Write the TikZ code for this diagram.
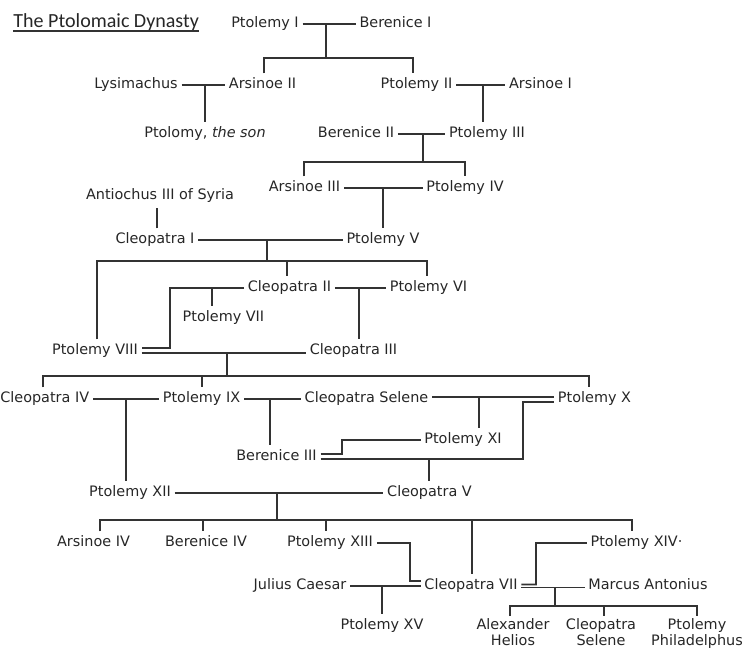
\documentclass[tikz,border=0pt]{standalone}
\usepackage{fontspec}
\setmainfont{DejaVu Sans}
\newfontfamily\titlefont{Carlito}
\usetikzlibrary{calc}

\begin{document}
\begin{tikzpicture}[
  x=0.02cm, y=-0.02cm,
  ln/.style  = {line width=0.9pt, black!80},
  pn/.style  = {font=\fontsize{8.2}{9.6}\selectfont, text=black!85,
                inner xsep=2pt, inner ysep=2.5pt, text height=6pt, text depth=1.8pt},
  kid/.style = {font=\fontsize{8.2}{9.1}\selectfont, text=black!85, align=center,
                anchor=north, inner xsep=0pt, inner ysep=1pt},
  ttl/.style = {font=\titlefont\fontsize{11.4}{13}\selectfont, text=black!85,
                inner sep=0pt, anchor=base west},
]
\useasboundingbox (0,0) rectangle (749,649);

%% title
\node[ttl] (ttl) at (13,28) {The Ptolomaic Dynasty};
\draw[line width=0.7pt, black!80] ($(ttl.base west)+(0,3)$) -- ($(ttl.base east)+(0,3)$);

%% people
\node[pn] (ptI)     at (265,24)    {Ptolemy I};
\node[pn] (berI)    at (395.5,24)  {Berenice I};
\node[pn] (lysim)   at (136,85)    {Lysimachus};
\node[pn] (arsII)   at (262.5,85)  {Arsinoe II};
\node[pn] (ptII)    at (416.5,85)  {Ptolemy II};
\node[pn] (arsI)    at (540.5,85)  {Arsinoe I};
\node[pn] (son)     at (205,134)   {Ptolomy, \textit{the son}};
\node[pn] (berII)   at (356,134)   {Berenice II};
\node[pn] (ptIII)   at (487,134)   {Ptolemy III};
\node[pn] (arsIII)  at (304.5,188) {Arsinoe III};
\node[pn] (ptIV)    at (465,188)   {Ptolemy IV};
\node[pn] (antio)   at (160,196)   {Antiochus III of Syria};
\node[pn] (cleoI)   at (155,240)   {Cleopatra I};
\node[pn] (ptV)     at (383,240)   {Ptolemy V};
\node[pn] (cleoII)  at (289.5,288) {Cleopatra II};
\node[pn] (ptVI)    at (428.5,288) {Ptolemy VI};
\node[pn] (ptVII)   at (223.5,318) {Ptolemy VII};
\node[pn] (ptVIII)  at (95,351)    {Ptolemy VIII};
\node[pn] (cleoIII) at (353.5,351) {Cleopatra III};
\node[pn, anchor=east] (cleoIV) at (93,399) {Cleopatra IV};
\node[pn] (ptIX)    at (201.5,399) {Ptolemy IX};
\node[pn] (selA)    at (366.5,399) {Cleopatra Selene};
\node[pn] (ptX)     at (594.5,399) {Ptolemy X};
\node[pn] (ptXI)    at (463,440)   {Ptolemy XI};
\node[pn] (berIII)  at (276.5,457) {Berenice III};
\node[pn] (ptXII)   at (130,493)   {Ptolemy XII};
\node[pn] (cleoV)   at (429.5,493) {Cleopatra V};
\node[pn] (arsIV)   at (93.5,543)  {Arsinoe IV};
\node[pn] (berIV)   at (206,543)   {Berenice IV};
\node[pn] (ptXIII)  at (330,543)   {Ptolemy XIII};
\node[pn] (ptXIV)   at (636.5,543) {Ptolemy XIV·};
\node[pn] (julius)  at (300,586)   {Julius Caesar};
\node[pn] (cleoVII) at (471,586)   {Cleopatra VII};
\node[pn] (marcus)  at (648,586)   {Marcus Antonius};
\node[pn] (ptXV)    at (382,626)   {Ptolemy XV};
\node[kid] (alex)   at (513,616)   {Alexander\\Helios};
\node[kid] (selB)   at (601,616)   {Cleopatra\\Selene};
\node[kid] (ptPh)   at (697,616)   {Ptolemy\\Philadelphus};

%% Ptolemy I + Berenice I
\coordinate (u1a) at (264,58);
\coordinate (u1m) at (326,58);
\coordinate (u1b) at (413,58);
\draw[ln] (ptI) -- (berI);
\draw[ln] (u1m |- ptI) -- (u1m);
\draw[ln] (u1a |- arsII.north) -- (u1a) -- (u1b) -- (u1b |- ptII.north);

%% Lysimachus + Arsinoe II
\draw[ln] (lysim) -- (arsII);
\draw[ln] (son.north |- lysim) -- (son.north);

%% Ptolemy II + Arsinoe I
\coordinate (j3) at (483,85);
\draw[ln] (ptII) -- (arsI);
\draw[ln] (j3) -- (j3 |- ptIII.north);

%% Berenice II + Ptolemy III
\coordinate (u2a) at (304,162);
\coordinate (u2m) at (423,162);
\coordinate (u2b) at (465,162);
\draw[ln] (berII) -- (ptIII);
\draw[ln] (u2m |- ptIII) -- (u2m);
\draw[ln] (u2a |- arsIII.north) -- (u2a) -- (u2b) -- (u2b |- ptIV.north);

%% Arsinoe III + Ptolemy IV
\draw[ln] (arsIII) -- (ptIV);
\draw[ln] (ptV.north |- ptIV) -- (ptV.north);

%% Antiochus
\draw[ln] ($(cleoI.north)+(2,0)$) -- ($(cleoI.north |- antio.south)+(2,0)$);

%% Cleopatra I + Ptolemy V
\coordinate (u3a) at (97,261);
\coordinate (u3m) at (267,261);
\coordinate (u3c) at (287,261);
\coordinate (u3b) at (427,261);
\draw[ln] (cleoI) -- (ptV);
\draw[ln] (u3m |- ptV) -- (u3m);
\draw[ln] (u3a |- ptVIII.north) -- (u3a) -- (u3b) -- (u3b |- ptVI.north);
\draw[ln] (u3c) -- (u3c |- cleoII.north);

%% Cleopatra II + Ptolemy VI
\coordinate (j4) at (359,288);
\draw[ln] (cleoII) -- (ptVI);
\draw[ln] (j4) -- (j4 |- cleoIII.north);

%% Cleopatra II + Ptolemy VIII
\coordinate (v1) at (170,288);
\coordinate (j5) at (212,288);
\draw[ln] (cleoII.west) -- (v1) |- ($(ptVIII.east)+(0,-3)$);
\draw[ln] (j5) -- (j5 |- ptVII.north);

%% Ptolemy VIII + Cleopatra III
\coordinate (j6)  at (227,353);
\coordinate (u4a) at (43,376);
\coordinate (u4c) at (202,376);
\coordinate (u4m) at (227,376);
\coordinate (u4b) at (589,376);
\draw[ln] ($(ptVIII.east)+(0,2)$) -- ($(cleoIII.west)+(0,2)$);
\draw[ln] (j6) -- (u4m);
\draw[ln] (u4a |- cleoIV.north) -- (u4a) -- (u4b) -- (u4b |- ptX.north);
\draw[ln] (u4c) -- (u4c |- ptIX.north);

%% Cleopatra IV + Ptolemy IX
\coordinate (j7) at (126,399);
\draw[ln] (cleoIV) -- (ptIX);
\draw[ln] (j7) -- (j7 |- ptXII.north);

%% Ptolemy IX + Cleopatra Selene
\coordinate (j8) at (270,399);
\draw[ln] (ptIX) -- (selA);
\draw[ln] (j8) -- (j8 |- berIII.north);

%% Cleopatra Selene + Ptolemy X
\coordinate (j9) at (479,397);
\draw[ln] ($(selA.east)+(0,-2)$) -- ($(ptX.west)+(0,-2)$);
\draw[ln] (j9) -- (j9 |- ptXI.north);

%% Berenice III + Ptolemy XI
\coordinate (w1) at (342,440);
\draw[ln] ($(berIII.east)+(0,-3)$) -| (w1) -- (ptXI.west);

%% Berenice III + Ptolemy X
\coordinate (w2) at (523,402);
\coordinate (w3) at (429,459);
\draw[ln] ($(berIII.east)+(0,2)$) -| (w2) -- ($(ptX.west)+(0,3)$);
\draw[ln] (w3) -- (w3 |- cleoV.north);

%% Ptolemy XII + Cleopatra V
\coordinate (u5a) at (100,520);
\coordinate (u5c) at (203,520);
\coordinate (u5m) at (277,520);
\coordinate (u5d) at (326,520);
\coordinate (u5e) at (472,520);
\coordinate (u5b) at (632,520);
\draw[ln] (ptXII) -- (cleoV);
\draw[ln] (u5m |- cleoV) -- (u5m);
\draw[ln] (u5a |- arsIV.north) -- (u5a) -- (u5b) -- (u5b |- ptXIV.north);
\foreach \c/\k in {u5c/berIV, u5d/ptXIII, u5e/cleoVII}
  \draw[ln] (\c) -- (\c |- \k.north);

%% Ptolemy XIII + Cleopatra VII
\coordinate (x1) at (410,581);
\draw[ln] (ptXIII.east) -| (x1) -- ($(cleoVII.west)+(0,-5)$);

%% Julius Caesar + Cleopatra VII
\draw[ln] (julius) -- (cleoVII);
\draw[ln] (ptXV.north |- julius) -- (ptXV.north);

%% Ptolemy XIV + Cleopatra VII
\coordinate (x2) at (536,584.5);
\draw[ln] (ptXIV.west) -| (x2) -- ($(cleoVII.east)+(0,-1.5)$);

%% Cleopatra VII + Marcus Antonius
\coordinate (j10) at (555,587.5);
\coordinate (u6a) at (510,606);
\coordinate (u6m) at (555,606);
\coordinate (u6c) at (604,606);
\coordinate (u6b) at (697,606);
\draw[ln] ($(cleoVII.east)+(0,1.5)$) -- ($(marcus.west)+(0,1.5)$);
\draw[ln] (j10) -- (u6m);
\draw[ln] (u6a |- alex.north) -- (u6a) -- (u6b) -- (u6b |- ptPh.north);
\draw[ln] (u6c) -- (u6c |- selB.north);

\end{tikzpicture}
\end{document}
